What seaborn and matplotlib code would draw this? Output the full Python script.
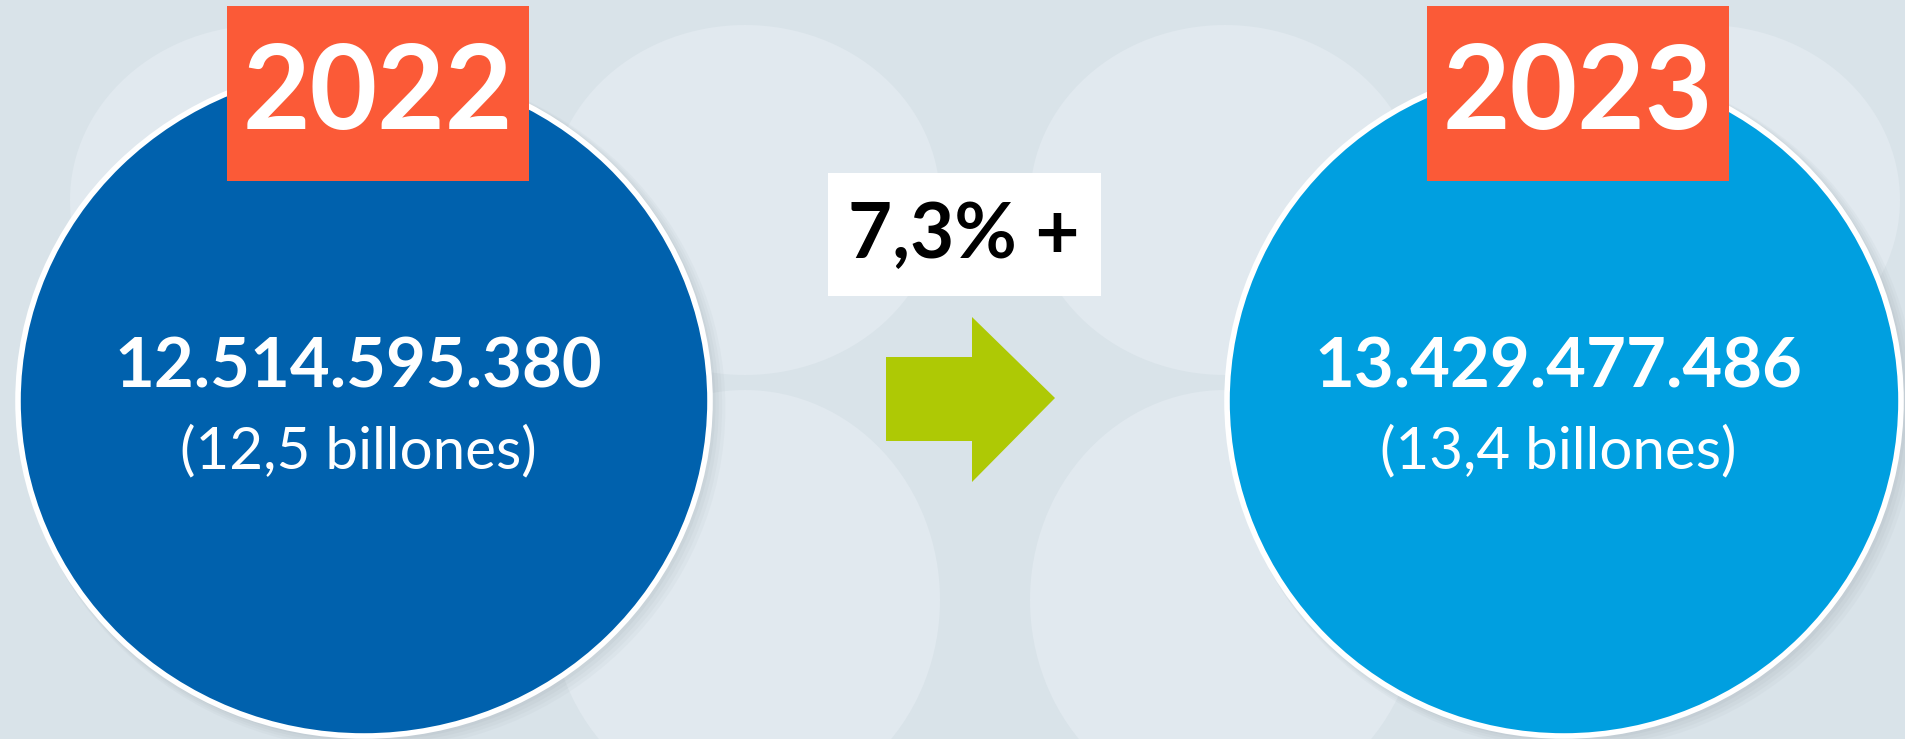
import matplotlib
matplotlib.use("Agg")
import matplotlib.pyplot as plt
from matplotlib.patches import Ellipse, Rectangle, Polygon
import seaborn as sns
import pandas as pd

# data
years = ["2022", "2023"]
totals = [12514595380, 13429477486]
totals_short = ["(12,5 billones)", "(13,4 billones)"]
growth_label = "7,3% +"
circle_colors = ["#0061AD", "#009FE0"]

# layout (pixel coords, origin top-left)
W, H = 1906, 739
circle_cx = [364, 1564]
circle_cy = [401, 401]
circle_rx = [346, 337]
circle_ry = [335, 335]
box_w, box_top, box_bot = 302, 6, 181
bg_color = "#D9E3E9"
blob_color = "#E1E9EF"
tag_color = "#FB5A37"


def fmt_es(n):
    return f"{n:,}".replace(",", ".")


df = pd.DataFrame({"year": years, "total": totals, "short": totals_short,
                   "cx": circle_cx, "cy": circle_cy, "rx": circle_rx,
                   "ry": circle_ry, "color": circle_colors})

sns.set_theme(style="white")
plt.rcParams["font.family"] = ["Lato", "DejaVu Sans"]

fig = plt.figure(figsize=(W / 100, H / 100), dpi=100)
fig.patch.set_facecolor(bg_color)
ax = fig.add_axes([0, 0, 1, 1])
ax.set_xlim(0, W)
ax.set_ylim(H, 0)
ax.set_facecolor(bg_color)
ax.axis("off")

# faint background texture (rounded loaf shapes)
for bx, by, bw, bh in [(745, 200, 390, 350), (1225, 200, 390, 350),
                       (745, 600, 390, 420), (1225, 600, 390, 420),
                       (265, 200, 390, 350), (1705, 200, 390, 350)]:
    ax.add_patch(Ellipse((bx, by), bw, bh, color=blob_color, lw=0, zorder=0))

for _, r in df.iterrows():
    # soft shadow
    for k, a in enumerate([0.05, 0.05, 0.06, 0.07]):
        off = 14 - 3 * k
        ax.add_patch(Ellipse((r.cx + off * 0.6, r.cy + off * 0.5), 2 * r.rx + off, 2 * r.ry + off,
                             color="#7d8a94", alpha=a, lw=0, zorder=1))
    ax.add_patch(Ellipse((r.cx, r.cy), 2 * r.rx, 2 * r.ry, facecolor=r.color,
                         edgecolor="white", lw=4, zorder=2))
    ax.text(r.cx - 6, r.cy - 33, fmt_es(r.total), color="white", fontsize=49.5,
            fontweight="bold", ha="center", va="center", zorder=4)
    ax.text(r.cx - 6, r.cy + 51, r.short, color="white", fontsize=42,
            ha="center", va="center", zorder=4)
    # year tag
    ax.add_patch(Rectangle((r.cx - box_w / 2 + 14, box_top), box_w, box_bot - box_top,
                           color=tag_color, lw=0, zorder=3))
    ax.text(r.cx + 14, (box_top + box_bot) / 2 + 2, r.year, color="white", fontsize=84,
            fontweight="bold", ha="center", va="center", zorder=4)

# growth label and arrow
ax.add_patch(Rectangle((828, 173), 273, 123, color="white", lw=0, zorder=3))
ax.text(964, 236, growth_label, color="black", fontsize=55, fontweight="bold",
        ha="center", va="center", zorder=4)
ax.add_patch(Polygon([(886, 357), (972, 357), (972, 317), (1055, 398), (972, 482),
                      (972, 441), (886, 441)], closed=True, color="#AEC905", lw=0, zorder=3))

fig.savefig("out.png", dpi=100, facecolor=bg_color)
